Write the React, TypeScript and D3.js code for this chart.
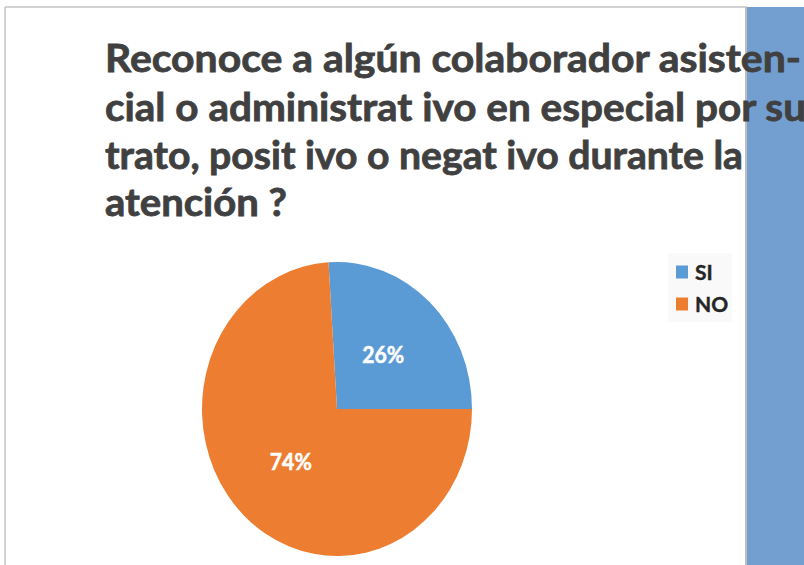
import React from "react";
import * as d3 from "d3";

const categories = ["SI", "NO"];
const values = [26, 74];
const sliceLabels = ["26%", "74%"];
const colors = ["#5B9BD5", "#ED7D31"];
const titleLines = [
  "Reconoce a algún colaborador asisten-",
  "cial o administrat ivo en especial por su",
  "trato, posit ivo o negat ivo durante la",
  "atención ?",
];
const titleWidths = [696, 701, 638, 182];
const titleBaselines = [72, 120.5, 169, 216];

export default function App() {
  const W = 804;
  const H = 565;
  const cx = 337;
  const cy = 409;
  const r = 135;
  const sy = 147 / 135;

  const total = d3.sum(values);
  const startDeg = 90 - (360 * values[0]) / total;
  const start = (startDeg * Math.PI) / 180;
  const pie = d3
    .pie<number>()
    .sort(null)
    .startAngle(start)
    .endAngle(start + 2 * Math.PI);
  const arcs = pie(values);
  const arc = d3.arc<d3.PieArcDatum<number>>().innerRadius(0).outerRadius(r);
  const labelArc = d3
    .arc<d3.PieArcDatum<number>>()
    .innerRadius(r * 0.5)
    .outerRadius(r * 0.5);

  const legendY = d3.scalePoint<string>().domain(categories).range([272, 304]);

  return (
    <svg
      width={W}
      height={H}
      style={{ position: "absolute", left: 0, top: 0, background: "#fff" }}
    >
      <rect x={0} y={0} width={W} height={H} fill="#fff" />
      {/* frame */}
      <line x1={5} y1={7} x2={747} y2={7} stroke="#c4c4c4" strokeWidth={1.5} />
      <line x1={5} y1={7} x2={5} y2={H} stroke="#c4c4c4" strokeWidth={1.5} />
      {/* right blue bar */}
      <rect x={747} y={7} width={W - 747} height={H - 7} fill="#729FCF" />
      <rect x={745} y={7} width={2} height={H - 7} fill="#bdbdbd" />

      {/* pie */}
      <g transform={`translate(${cx},${cy}) scale(1,${sy})`}>
        {arcs.map((a, i) => (
          <path key={i} d={arc(a) || ""} fill={colors[i]} />
        ))}
      </g>
      {arcs.map((a, i) => {
        const [lx, ly] = labelArc.centroid(a);
        return (
          <text
            key={i}
            x={cx + lx}
            y={cy + ly * sy}
            dy="0.36em"
            textAnchor="middle"
            fill="#ffffff"
            stroke="#ffffff"
            strokeWidth={0.5}
            fontFamily="Lato, 'Open Sans', sans-serif"
            fontWeight={700}
            fontSize={22}
            textLength={42}
            lengthAdjust="spacingAndGlyphs"
          >
            {sliceLabels[i]}
          </text>
        );
      })}

      {/* legend */}
      <rect x={668} y={253} width={64} height={69} fill="#f9f9f9" />
      {categories.map((c, i) => (
        <g key={c}>
          <rect
            x={676}
            y={(legendY(c) || 0) - 6.5}
            width={12}
            height={13}
            fill={colors[i]}
          />
          <text
            x={695}
            y={legendY(c) || 0}
            dy="0.36em"
            fill="#262626"
            stroke="#262626"
            strokeWidth={0.4}
            fontFamily="Lato, 'Open Sans', sans-serif"
            fontWeight={700}
            fontSize={21}
          >
            {c}
          </text>
        </g>
      ))}

      {/* title */}
      {titleLines.map((t, i) => (
        <text
          key={i}
          x={105}
          y={titleBaselines[i]}
          textLength={titleWidths[i]}
          lengthAdjust="spacingAndGlyphs"
          fill="#404040"
          stroke="#404040"
          strokeWidth={0.8}
          fontFamily="Lato, 'Open Sans', sans-serif"
          fontWeight={700}
          fontSize={39}
        >
          {t}
        </text>
      ))}
    </svg>
  );
}
